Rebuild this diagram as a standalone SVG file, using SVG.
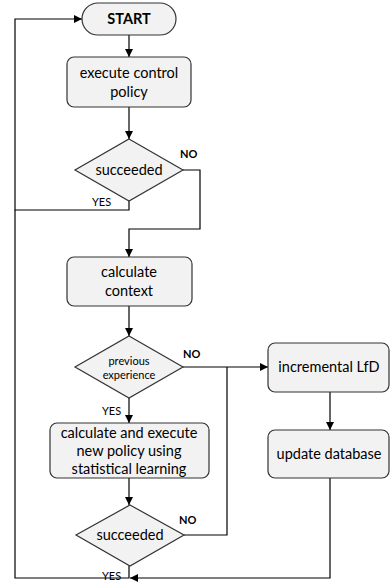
<svg xmlns="http://www.w3.org/2000/svg" width="390" height="583" viewBox="0 0 390 583">
<defs>
<marker id="ah" viewBox="0 0 10 10" refX="10" refY="5" markerWidth="8" markerHeight="8" markerUnits="userSpaceOnUse" orient="auto"><path d="M0,0 L10,5 L0,10 z" fill="#000"/></marker>
<style>
.n{fill:#f2f2f2;stroke:#333;stroke-width:1.2}
.t{font-family:Lato,"Liberation Sans",sans-serif;font-size:14.5px;fill:#000;text-anchor:middle}
.s{font-size:11px}
.b{font-family:Lato,"Liberation Sans",sans-serif;font-weight:bold;font-size:11px;fill:#000}
.y{font-family:Lato,"Liberation Sans",sans-serif;font-size:11px;fill:#000}
.c{fill:none;stroke:#000;stroke-width:1.2}
</style>
</defs>
<rect width="390" height="583" fill="#fff"/>
<g id="connectors">
<path class="c" d="M129,35 V57" marker-end="url(#ah)"/>
<path class="c" d="M129,107 V139" marker-end="url(#ah)"/>
<path class="c" d="M129,201 V210 H15 V19 H82" marker-end="url(#ah)"/>
<path class="c" d="M183,170 H200 V229 H129 V257" marker-end="url(#ah)"/>
<path class="c" d="M129,306 V336" marker-end="url(#ah)"/>
<path class="c" d="M183,367 H268" marker-end="url(#ah)"/>
<path class="c" d="M129,398 V423" marker-end="url(#ah)"/>
<path class="c" d="M129,478 V505" marker-end="url(#ah)"/>
<path class="c" d="M184,535 H227 V367"/>
<path class="c" d="M330,392 V430" marker-end="url(#ah)"/>
<path class="c" d="M330,478 V578 H130" marker-end="url(#ah)"/>
<path class="c" d="M129,566 V578 H15 V210"/>
<text class="b" x="180" y="158">NO</text>
<text class="y" x="92" y="206">YES</text>
<text class="b" x="183" y="358">NO</text>
<text class="y" x="102" y="415">YES</text>
<text class="b" x="179" y="524">NO</text>
<text class="y" x="102" y="580">YES</text>
</g>
<g id="start"><rect class="n" x="82" y="3" width="94" height="32" rx="16"/><text class="t" x="129" y="24" font-weight="bold" font-size="15">START</text></g>
<g id="execute"><rect class="n" x="67" y="57" width="124" height="50" rx="7"/><text class="t" x="129" y="78">execute control</text><text class="t" x="129" y="97">policy</text></g>
<g id="succeeded1"><polygon class="n" points="129,139 183,170 129,201 75,170"/><text class="t" x="129" y="175">succeeded</text></g>
<g id="context"><rect class="n" x="67" y="257" width="125" height="49" rx="7"/><text class="t" x="129" y="277">calculate</text><text class="t" x="129" y="296">context</text></g>
<g id="previous"><polygon class="n" points="129,336 183,367 129,398 75,367"/><text class="t s" x="129" y="365">previous</text><text class="t s" x="129" y="379">experience</text></g>
<g id="calcexec"><rect class="n" x="50" y="423" width="159" height="55" rx="7"/><text class="t" x="129" y="438">calculate and execute</text><text class="t" x="129" y="456">new policy using</text><text class="t" x="129" y="474">statistical learning</text></g>
<g id="succeeded2"><polygon class="n" points="130,505 184,535 130,566 76,535"/><text class="t" x="130" y="540">succeeded</text></g>
<g id="lfd"><rect class="n" x="268" y="343" width="121" height="49" rx="7"/><text class="t" x="329" y="372">incremental LfD</text></g>
<g id="update"><rect class="n" x="268" y="430" width="121" height="48" rx="7"/><text class="t" x="329" y="459">update database</text></g>
</svg>
